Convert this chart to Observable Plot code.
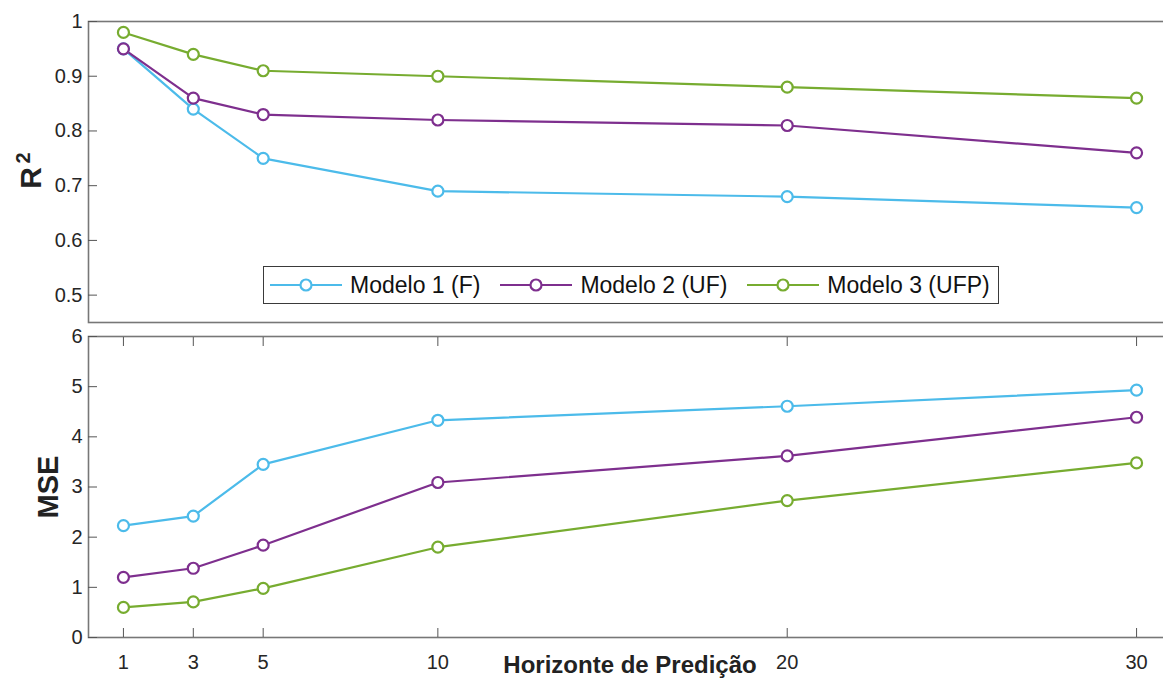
<!DOCTYPE html>
<html>
<head>
<meta charset="utf-8">
<script src="https://cdn.jsdelivr.net/npm/d3@7"></script>
<script src="https://cdn.jsdelivr.net/npm/@observablehq/plot@0.6"></script>
<style>
  html, body { margin: 0; padding: 0; background: #fff; overflow: hidden; }
  #chart { position: relative; width: 1180px; height: 679px; overflow: hidden;
           font-family: "Liberation Sans", Arial, sans-serif; }
  #chart svg { display: block; max-width: none !important; overflow: visible; }
  .legend { position: absolute; left: 263px; top: 266px; width: 736px; height: 38px;
            box-sizing: border-box; border: 1px solid #3a3a3a; background: #fff;
            display: flex; align-items: center; font-size: 23px; color: #111; white-space: nowrap; }
  .legend .item { display: flex; align-items: center; }
  .legend .item + .item { margin-left: 14px; }
  .legend svg { margin-left: 6px; margin-right: 8px; }
</style>
</head>
<body>
<div id="chart"></div>
<script>
// Prediction horizons (x axis)
const horizons = [1, 3, 5, 10, 20, 30];
const models = ["Modelo 1 (F)", "Modelo 2 (UF)", "Modelo 3 (UFP)"];
const colors = ["#4cbbea", "#7e2f8e", "#77ac30"];

// R² per model
const r2Model1 = [0.95, 0.84, 0.75, 0.69, 0.68, 0.66];
const r2Model2 = [0.95, 0.86, 0.83, 0.82, 0.81, 0.76];
const r2Model3 = [0.98, 0.94, 0.91, 0.90, 0.88, 0.86];

// MSE per model
const mseModel1 = [2.23, 2.42, 3.45, 4.33, 4.61, 4.93];
const mseModel2 = [1.20, 1.38, 1.84, 3.09, 3.62, 4.39];
const mseModel3 = [0.60, 0.71, 0.98, 1.80, 2.73, 3.48];

const r2Ticks = [0.5, 0.6, 0.7, 0.8, 0.9, 1];
const mseTicks = [0, 1, 2, 3, 4, 5, 6];

const r2Series = [r2Model1, r2Model2, r2Model3];
const mseSeries = [mseModel1, mseModel2, mseModel3];

const rows = [];
models.forEach((m, i) => {
  horizons.forEach((h, j) => {
    rows.push({model: m, h, r2: r2Series[i][j], mse: mseSeries[i][j]});
  });
});

const W = 1180;
const frameColor = "#777";
const textColor = "#262626";
const font = "'Liberation Sans', Arial, sans-serif";
const color = {domain: models, range: colors};
const xScale = {domain: [0, 31]};

function seriesMarks(yKey) {
  return [
    Plot.line(rows, {x: "h", y: yKey, z: "model", stroke: "model", strokeWidth: 2.2}),
    Plot.dot(rows, {x: "h", y: yKey, stroke: "model", fill: "white", r: 5.5, strokeWidth: 2.2})
  ];
}

const titleStyle = {rotate: -90, textAnchor: "middle", lineAnchor: "middle", fontWeight: "bold", fill: "#222"};

const r2Panel = Plot.plot({
  width: W, height: 329,
  marginTop: 21, marginBottom: 7, marginLeft: 88, marginRight: 9,
  style: {fontFamily: font, fontSize: "20px", color: textColor, background: "white"},
  x: {...xScale, axis: null},
  y: {domain: [0.45, 1]},
  color,
  marks: [
    Plot.frame({stroke: frameColor, strokeWidth: 1.6}),
    Plot.axisY({ticks: r2Ticks, tickSize: -9, tickPadding: 15, tickFormat: d => String(d), label: null, stroke: "#555", fill: textColor}),
    Plot.axisY({anchor: "right", ticks: r2Ticks, tickSize: -9, tickFormat: () => "", label: null, stroke: "#555"}),
    ...seriesMarks("r2"),
    // axis title R with a raised exponent 2
    Plot.text(["R"], {frameAnchor: "left", dx: -57, dy: 6, fontSize: 30, ...titleStyle}),
    Plot.text(["2"], {frameAnchor: "left", dx: -65, dy: -14, fontSize: 20, ...titleStyle})
  ]
});

const msePanel = Plot.plot({
  width: W, height: 350,
  marginTop: 7, marginBottom: 42, marginLeft: 88, marginRight: 9,
  style: {fontFamily: font, fontSize: "20px", color: textColor, background: "transparent"},
  x: xScale,
  y: {domain: [0, 6]},
  color,
  marks: [
    Plot.frame({stroke: frameColor, strokeWidth: 1.6}),
    Plot.axisX({ticks: horizons, tickSize: -9, tickPadding: 26, tickFormat: d => String(d), label: null, stroke: "#555", fill: textColor}),
    Plot.axisX({anchor: "top", ticks: horizons, tickSize: -9, tickFormat: () => "", label: null, stroke: "#555"}),
    Plot.axisY({ticks: mseTicks, tickSize: -9, tickPadding: 15, tickFormat: d => String(d), label: null, stroke: "#555", fill: textColor}),
    Plot.axisY({anchor: "right", ticks: mseTicks, tickSize: -9, tickFormat: () => "", label: null, stroke: "#555"}),
    ...seriesMarks("mse"),
    Plot.text(["MSE"], {frameAnchor: "left", dx: -40, fontSize: 29, ...titleStyle}),
    Plot.text(["Horizonte de Predição"], {frameAnchor: "bottom", dy: 28, textAnchor: "middle", lineAnchor: "middle", fontSize: 24, fontWeight: "bold", fill: "#222"})
  ]
});

const chart = document.getElementById("chart");
chart.appendChild(r2Panel);
chart.appendChild(msePanel);

// Legend box inside the upper panel
const legend = document.createElement("div");
legend.className = "legend";
models.forEach((m, i) => {
  const item = document.createElement("div");
  item.className = "item";
  item.innerHTML =
    `<svg width="72" height="20"><line x1="0" x2="72" y1="10" y2="10" stroke="${colors[i]}" stroke-width="2.2"/>` +
    `<circle cx="36" cy="10" r="5.5" fill="white" stroke="${colors[i]}" stroke-width="2.2"/></svg>` +
    `<span>${m}</span>`;
  legend.appendChild(item);
});
chart.appendChild(legend);
</script>
</body>
</html>
